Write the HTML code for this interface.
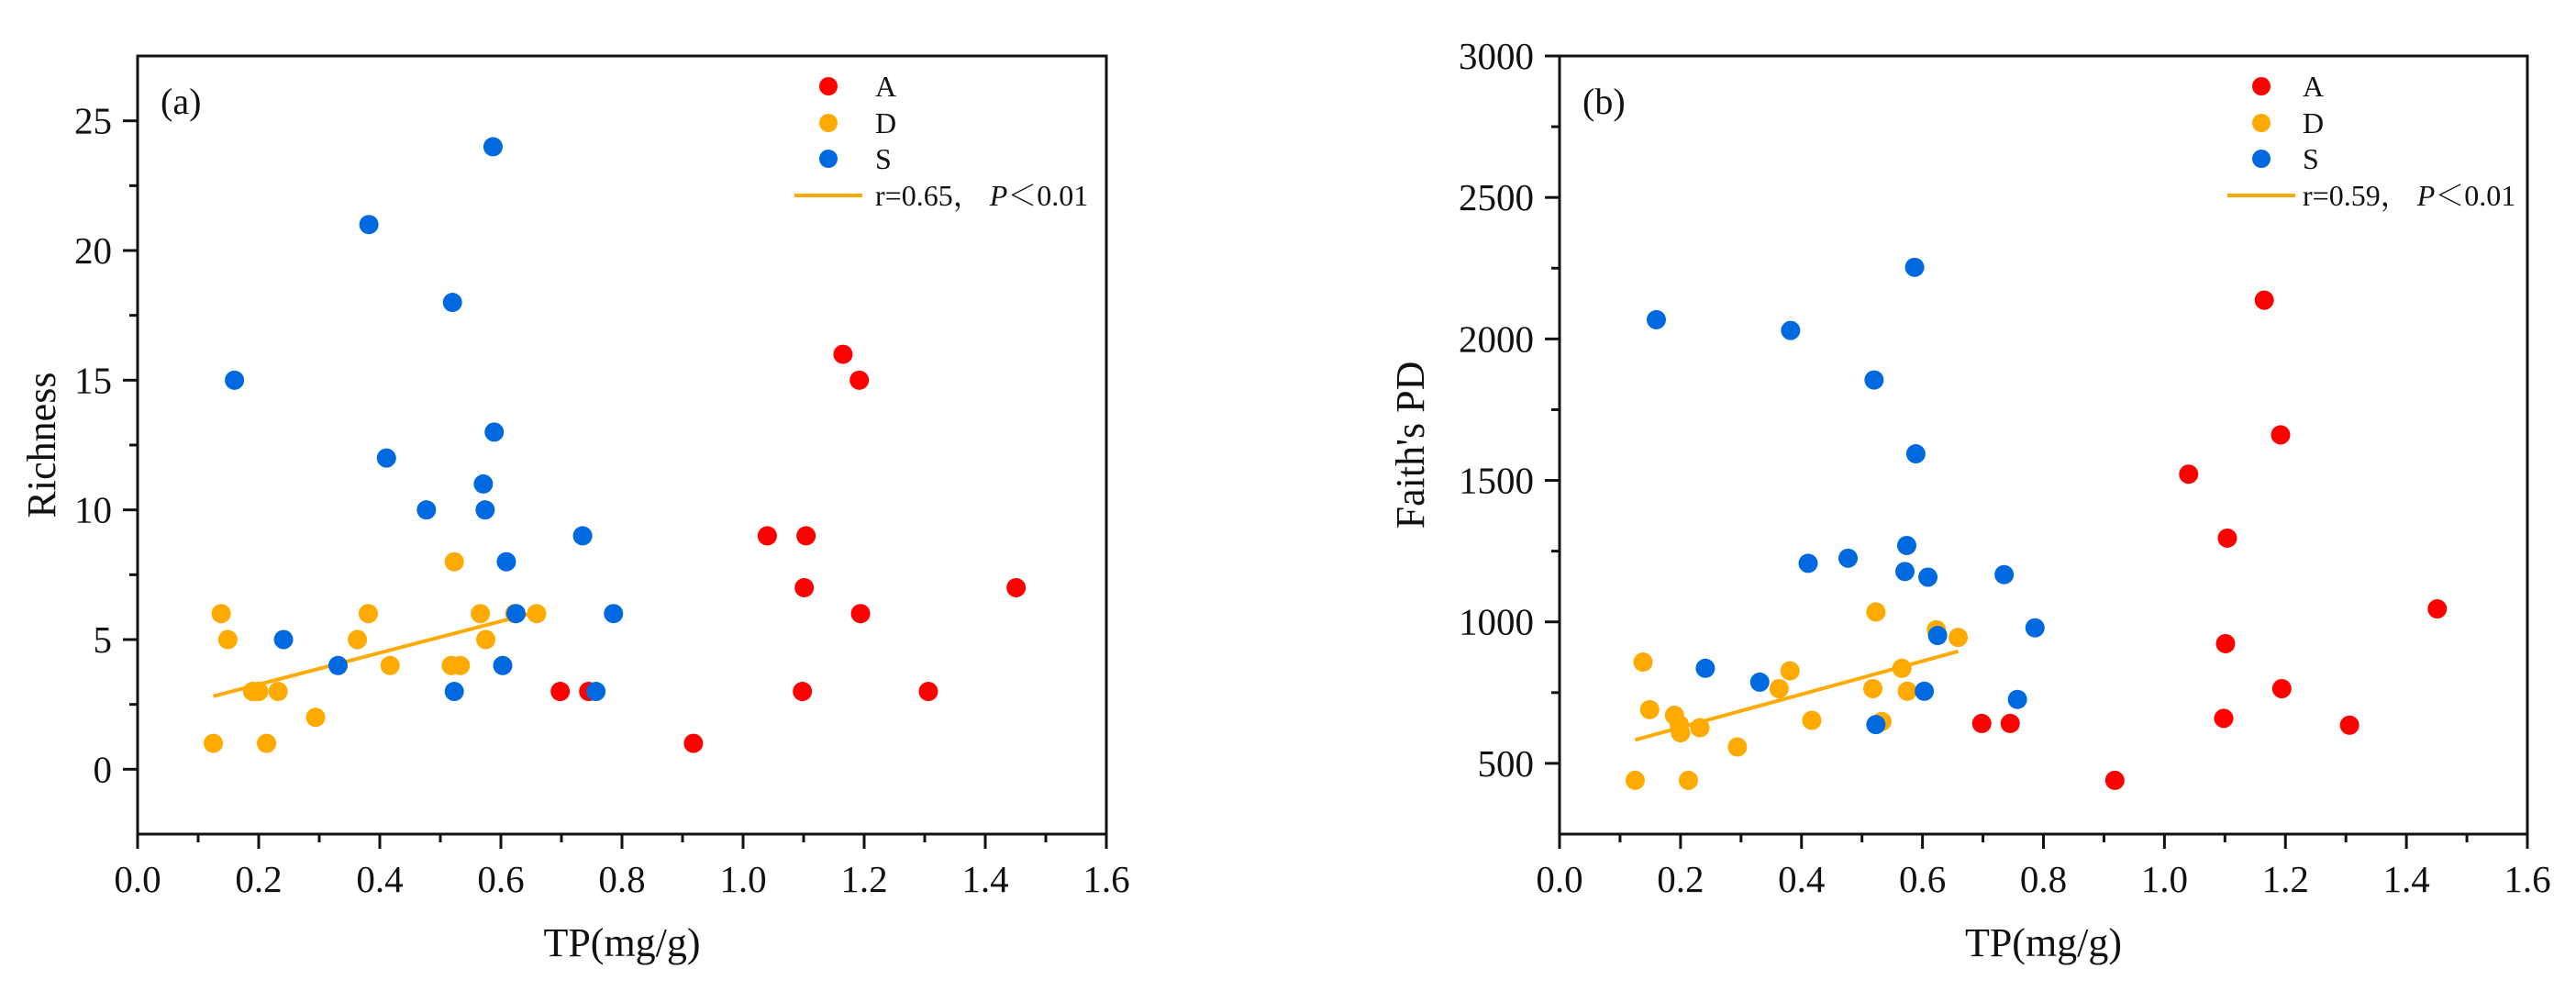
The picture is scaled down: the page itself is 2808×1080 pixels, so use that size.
<!DOCTYPE html>
<html><head><meta charset="utf-8">
<style>
html,body{margin:0;padding:0;background:#fff;}
svg{display:block;font-family:"Liberation Serif","Noto Serif CJK SC",serif;}
</style></head>
<body>
<svg id="chart" width="2808" height="1080" viewBox="0 0 2808 1080" xmlns="http://www.w3.org/2000/svg"></svg>
<script>
// ---- data ----
const xTicks = [0.0, 0.2, 0.4, 0.6, 0.8, 1.0, 1.2, 1.4, 1.6];
const xTickLabels = ["0.0","0.2","0.4","0.6","0.8","1.0","1.2","1.4","1.6"];
const richTicks = [0, 5, 10, 15, 20, 25];
const faithTicks = [500, 1000, 1500, 2000, 2500, 3000];

const tpA = [0.698,0.745,0.918,1.04,1.104,1.101,1.098,1.165,1.192,1.194,1.306,1.451];
const richA = [3,3,1,9,9,7,3,16,15,6,3,7];
const faithA = [641,641,440,1522,1296,923,659,2137,1661,764,635,1046];

const tpD = [0.125,0.138,0.149,0.19,0.198,0.2,0.232,0.213,0.294,0.363,0.381,0.417,0.523,0.518,0.533,0.566,0.575,0.659,0.623];
const richD = [1,6,5,3,3,3,3,1,2,5,6,4,8,4,4,6,5,6,6];
const faithD = [440,858,690,670,637,608,626,440,558,764,827,652,1035,764,648,836,755,945,972];

const tpS = [0.16,0.241,0.331,0.382,0.411,0.477,0.52,0.523,0.571,0.574,0.587,0.589,0.603,0.609,0.625,0.735,0.757,0.786];
const richS = [15,5,4,21,12,10,18,3,11,10,24,13,4,8,6,9,3,6];
const faithS = [2068,836,787,2030,1207,1225,1855,637,1178,1270,2253,1594,755,1158,952,1167,726,979];

const groupNames = ["A","D","S"];
const groupColors = ["#ff0000","#ffaa00","#0069e0"];

const NS = "http://www.w3.org/2000/svg";
const svg = document.getElementById("chart");
function mk(tag, attrs, parent){
  const e = document.createElementNS(NS, tag);
  for (const k in attrs) e.setAttribute(k, attrs[k]);
  (parent||svg).appendChild(e);
  return e;
}
function lsq(xs, ys){
  const n = xs.length; let mx=0,my=0;
  for(let i=0;i<n;i++){mx+=xs[i];my+=ys[i];}
  mx/=n; my/=n; let sxy=0,sxx=0;
  for(let i=0;i<n;i++){sxy+=(xs[i]-mx)*(ys[i]-my);sxx+=(xs[i]-mx)**2;}
  const b=sxy/sxx; return [my-b*mx, b];
}

function panel(cfg){
  const g = mk("g", {});
  
  
  const L=cfg.left, R=cfg.right, T=61, B=909;
  const sx = v => L + (v - 0) / 1.6 * (R - L);
  const sy = v => B - (v - cfg.ymin) / (cfg.ymax - cfg.ymin) * (B - T);

  const fr = mk("rect", {x:L, y:T, width:R-L, height:B-T, fill:"none", stroke:"#111", "stroke-width":3}, g);
  
  

  for (let i=0;i<xTicks.length;i++){
    const x = sx(xTicks[i]);
    const t = mk("line",{x1:x,y1:B,x2:x,y2:B+16,stroke:"#111","stroke-width":3},g);
    
    
    const lb = mk("text",{x:x,y:972,"font-size":41,"text-anchor":"middle",fill:"#111"},g);
    lb.textContent = xTickLabels[i];
    
    
    if (i < xTicks.length-1){
      const xm = sx(xTicks[i]+0.1);
      const m = mk("line",{x1:xm,y1:B,x2:xm,y2:B+9,stroke:"#111","stroke-width":3},g);
      
      
    }
  }
  const step = cfg.yticks[1]-cfg.yticks[0];
  for (const v of cfg.yticks){
    const y = sy(v);
    const t = mk("line",{x1:L-16,y1:y,x2:L,y2:y,stroke:"#111","stroke-width":3},g);
    
    
    const lb = mk("text",{x:L-28,y:y+14,"font-size":41,"text-anchor":"end",fill:"#111"},g);
    lb.textContent = String(v);
    
    
  }
  for (let v = cfg.yticks[0]-step/2; v < cfg.ymax; v += step){
    if (v <= cfg.ymin) continue;
    const y = sy(v);
    const m = mk("line",{x1:L-9,y1:y,x2:L,y2:y,stroke:"#111","stroke-width":3},g);
    
    
  }
  const xt = mk("text",{x:(L+R)/2,y:1042,"font-size":44,"text-anchor":"middle",fill:"#111"},g);
  xt.textContent = "TP(mg/g)";
  
  
  const yt = mk("text",{x:0,y:0,"font-size":44,"text-anchor":"middle",fill:"#111",transform:`translate(${cfg.ytitleX},${(T+B)/2}) rotate(-90)`},g);
  yt.textContent = cfg.ytitle;
  
  
  const pl = mk("text",{x:L+25,y:124,"font-size":40,fill:"#111"},g);
  pl.textContent = cfg.label;
  
  

  const sets = [[tpA,cfg.ya],[tpD,cfg.yd],[tpS,cfg.ys]];
  for (let gi=0; gi<3; gi++){
    const xs=sets[gi][0], ys=sets[gi][1];
    for (let i=0;i<xs.length;i++){
      const c = mk("circle",{cx:sx(xs[i]),cy:sy(ys[i]),r:10.5,fill:groupColors[gi]},g);
      
      
    }
    if (gi===1){
      const [a,b] = lsq(tpD, cfg.yd);
      const x0 = Math.min(...tpD), x1 = Math.max(...tpD);
      const ln = mk("line",{x1:sx(x0),y1:sy(a+b*x0),x2:sx(x1),y2:sy(a+b*x1),stroke:"#ffaa00","stroke-width":4},g);
      
      
    }
  }

  const lg = mk("g",{},g);
  
  
  const ly = [94,134,173];
  for (let gi=0; gi<3; gi++){
    const c = mk("circle",{cx:cfg.legX,cy:ly[gi],r:10,fill:groupColors[gi]},lg);
    
    
    const t = mk("text",{x:cfg.legText,y:ly[gi]+11,"font-size":32,fill:"#111"},lg);
    t.textContent = groupNames[gi];
    
    
  }
  const ll = mk("line",{x1:cfg.legX-37,y1:213,x2:cfg.legX+37,y2:213,stroke:"#ffaa00","stroke-width":4},lg);
  
  
  const rt = mk("text",{x:cfg.legText,y:224,"font-size":32,fill:"#111"},lg);
  
  
  rt.innerHTML = cfg.rtext + '\uFF0C <tspan font-style="italic">P</tspan>\uFF1C0.01';
}

panel({name:"panel-a-richness", left:150, right:1206, ymin:-2.5, ymax:27.5, yticks:richTicks,
  ya:richA, yd:richD, ys:richS, ytitle:"Richness", ytitleX:60, label:"(a)",
  legX:903, legText:954, rtext:"r=0.65"});
panel({name:"panel-b-faith-pd", left:1700, right:2755, ymin:250, ymax:3000, yticks:faithTicks,
  ya:faithA, yd:faithD, ys:faithS, ytitle:"Faith's PD", ytitleX:1552, label:"(b)",
  legX:2465, legText:2510, rtext:"r=0.59"});
</script>
</body></html>
